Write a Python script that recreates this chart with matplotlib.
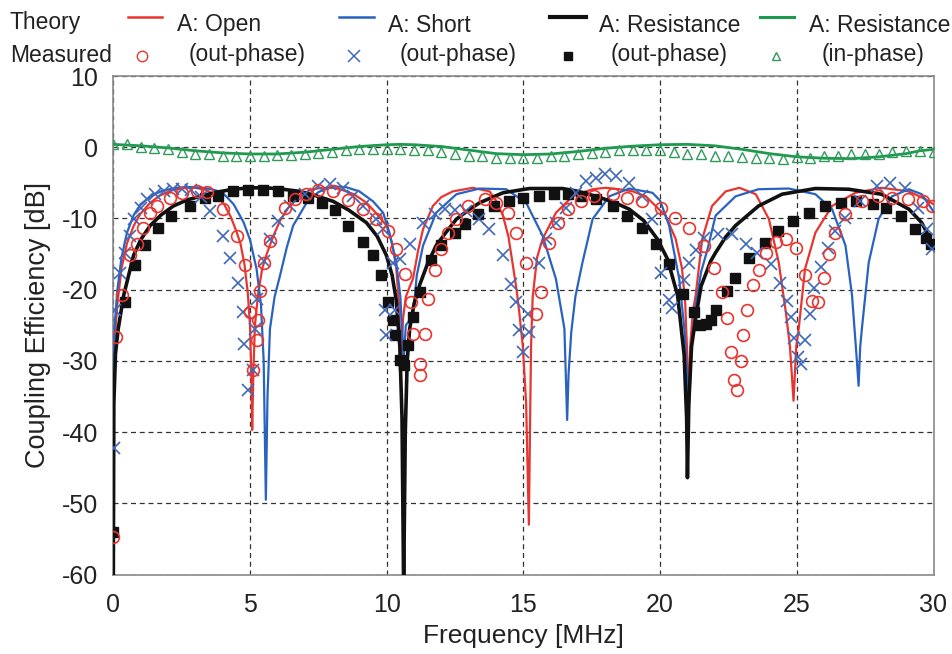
import matplotlib
matplotlib.use("Agg")
import matplotlib.pyplot as plt
from matplotlib.lines import Line2D

plt.rcParams['font.family'] = ['Liberation Sans', 'DejaVu Sans']

# ---------------- data ----------------
# Theory: A: Open (out-phase)
open_th_f = [0.0, 0.05, 0.15, 0.3, 0.5, 0.75, 1.0, 1.35, 1.7, 2.1, 2.6, 3.0, 3.4, 3.75, 4.05, 4.3, 4.5,
             4.65, 4.8, 4.92, 5.0, 5.05, 5.08, 5.12, 5.18, 5.3, 5.45, 5.61, 5.85, 6.1, 6.4, 6.8, 7.2, 7.6,
             8.0, 8.3, 8.8, 9.26, 9.6, 9.99, 10.2, 10.35, 10.45, 10.52, 10.6, 10.7, 10.85, 10.96, 11.15,
             11.33, 11.69, 12.0, 12.42, 13.15, 13.76, 14.0, 14.25, 14.45, 14.6, 14.75, 14.85, 14.98, 15.1,
             15.2, 15.24, 15.28, 15.34, 15.5, 15.7, 16.19, 16.8, 17.53, 18.0, 18.5, 19.0, 19.48, 19.9, 20.2,
             20.57, 20.8, 20.92, 21.0, 21.04, 21.1, 21.2, 21.3, 21.54, 21.9, 22.4, 22.9, 23.5, 23.98, 24.34,
             24.6, 24.75, 24.88, 24.98, 25.07, 25.3, 25.68, 26.29, 27.14, 28.1, 29.1, 29.7, 30.0]
open_th_db = [-35, -27, -22, -17, -13.5, -11, -9.3, -7.8, -6.8, -6.1, -5.7, -5.7, -6.0, -6.8, -8.0, -9.8, -11.8,
              -13.5, -16.5, -20.5, -25, -32, -39.7, -32, -25, -20.5, -17, -15, -12.5, -10.3, -8.5, -6.9, -6.0, -5.7,
              -5.7, -5.9, -6.6, -7.8, -9.2, -11.0, -13.5, -17, -22, -31, -24, -21, -19.5, -18.5, -14.5,
              -11.5, -8.25, -7.0, -6.2, -5.7, -6.2, -7.5, -9.6, -12.5, -16.2, -20, -23.2, -28, -36,
              -53, -40, -28, -21, -15.5, -12.9, -9.2, -6.9, -5.9, -5.7, -5.9, -6.2, -6.9, -8.5, -9.6,
              -12.9, -17, -22, -30, -38.5, -28, -23, -20.8, -12.9, -8.25, -6.2, -5.7, -6.6, -10.1, -16.2,
              -23.2, -28, -35.6, -28, -25.5, -17.1, -12.0, -8.25, -6.4, -5.7, -6.2, -7.3, -8.0]

# Theory: A: Short (out-phase)
short_th_f = [0.0, 0.05, 0.15, 0.3, 0.5, 0.75, 1.0, 1.4, 1.8, 2.3, 2.8, 3.3, 3.7, 4.0, 4.4, 4.76, 5.0, 5.24,
              5.4, 5.5, 5.58, 5.64, 5.73, 5.9, 6.1, 6.35, 6.58, 7.07, 7.5, 8.04, 8.5, 9.0, 9.5, 9.87, 10.1,
              10.35, 10.5, 10.62, 10.7, 10.8, 10.96, 11.1, 11.33, 11.81, 12.55, 13.4, 14.37, 15.1, 15.7, 16.19,
              16.5, 16.6, 16.65, 16.75, 16.9, 17.16, 17.53, 18.14, 18.87, 19.72, 20.0, 20.33, 20.45, 20.7, 20.9,
              21.05, 21.15, 21.3, 21.5, 21.73, 22.03, 22.76, 23.6, 24.7, 25.68, 26.29, 26.78, 27.02, 27.2,
              27.26, 27.32, 27.38, 27.63, 27.99, 28.48, 29.1, 29.57, 29.94, 30.0]
short_th_db = [-35, -25, -20, -15.5, -12, -9.5, -8.0, -6.8, -6.1, -5.7, -5.6, -5.7, -6.0, -6.4, -8.0, -10.5, -13, -17.1,
               -22, -30, -49.5, -35, -25.5, -21, -18, -14, -11, -7.8, -6.3, -5.5, -5.6, -6.2, -7.6, -9.2, -12,
               -16.2, -21, -30, -25, -24.5, -23.6, -18, -13.8, -9.2, -6.6, -5.8, -5.9, -7.8, -12.4, -18.5,
               -25.5, -38.3, -32, -26, -21, -16.2, -10.1, -6.9, -5.8, -6.4, -7.5, -11, -13.5, -18.5, -26,
               -37, -28, -22.2, -17.5, -14.4, -9.6, -6.9, -5.9, -5.8, -6.6, -8.7, -13.8, -20.8, -30.1,
               -33.5, -28, -25.5, -16.2, -10.1, -6.9, -5.9, -6.6, -8.7, -9.0]

# Theory: A: Resistance (out-phase)
res_th_f = [0.0, 0.02, 0.08, 0.18, 0.38, 0.74, 1.0, 1.35, 1.75, 2.2, 2.7, 3.18, 3.8, 4.39, 5.0, 5.61, 6.2,
            6.82, 7.4, 8.04, 8.6, 9.26, 9.65, 9.99, 10.2, 10.35, 10.48, 10.56, 10.62, 10.68, 10.75, 10.84,
            11.0, 11.2, 11.5, 11.81, 12.2, 12.55, 13.0, 13.4, 14.25, 15.22, 16.43, 17.0, 17.65, 18.3, 18.87,
            19.4, 19.9, 20.27, 20.64, 20.88, 20.97, 21.0, 21.05, 21.15, 21.3, 21.5, 21.85, 22.03, 22.4,
            22.76, 23.6, 24.46, 25.68, 26.9, 28.1, 29.1, 29.57, 29.94, 30.0]
res_th_db = [-62, -36, -29, -25.5, -20.8, -15.2, -13, -11.0, -9.5, -8.25, -7.4, -6.9, -6.3, -5.9, -5.7, -5.7, -5.9,
             -6.2, -6.8, -7.6, -8.8, -10.6, -12.5, -15.2, -18, -21.5, -28, -38, -62, -40, -30, -25.5,
             -22, -19.4, -16.3, -13.8, -11.8, -10.1, -8.8, -7.8, -6.4, -5.8, -5.8, -6.2, -6.9, -7.7, -8.7,
             -10.3, -12.9, -15.7, -20.8, -29.2, -38, -46.4, -36, -28, -24, -19.5, -16, -14.8, -12.6,
             -11.0, -8.25, -6.6, -5.8, -5.9, -6.6, -8.7, -10.6, -13.4, -13.8]

# Theory: A: Resistance (in-phase)
inph_th_f = [0, 1, 2, 3, 4, 5, 6, 7, 8, 9, 10, 10.5, 11, 12, 13, 14, 15, 16, 17, 18, 19, 20, 21,
             22, 23, 24, 25, 26, 27, 28, 29, 29.5, 30]
inph_th_db = [0.4, 0.2, -0.1, -0.5, -0.8, -0.95, -0.95, -0.7, -0.3, 0.1, 0.35, 0.4, 0.35, 0.1, -0.4, -0.9,
              -1.05, -0.95, -0.6, -0.15, 0.15, 0.35, 0.4, 0.2, -0.3, -0.9, -1.35, -1.55, -1.6, -1.35, -0.9,
              -0.5, -0.3]

# Measured: A: Open (out-phase)
open_ms_f = [0.0, 0.1, 0.32, 0.6, 0.86, 1.1, 1.35, 1.6, 2.08, 2.5, 3.05, 3.44, 4.03, 4.51, 4.82, 5.0, 5.12,
             5.24, 5.3, 5.36, 5.52, 5.73, 6.28, 6.64, 7.05, 7.49, 8.04, 8.59, 9.14, 9.62, 10.05, 10.35, 10.66,
             10.9, 10.96, 11.2, 11.22, 11.39, 11.5, 11.75, 12.0, 12.24, 12.55, 12.97, 13.58, 14.0, 14.43,
             14.73, 15.1, 15.46, 15.65, 15.95, 16.25, 16.62, 17.1, 17.6, 18.26, 18.8, 19.35, 20.02, 20.55,
             21.04, 21.6, 21.98, 22.25, 22.45, 22.59, 22.71, 22.8, 22.96, 23.02, 23.18, 23.39, 23.6, 23.87,
             24.24, 24.6, 24.97, 25.3, 25.55, 25.77, 25.99, 26.19, 26.41, 26.78, 27.38, 27.97, 28.5, 29.06,
             29.6, 29.94]
open_ms_db = [-54.8, -26.6, -20.7, -15.1, -13.6, -11.3, -9.2, -8.2, -7.1, -6.4, -6.1, -6.3, -8.7, -12.5, -16.6,
              -23.1, -31.3, -27.1, -24.2, -20.2, -16.2, -13.2, -8.6, -7.3, -6.5, -6.0, -6.2, -7.4, -8.7, -10.1,
              -11.7, -14.3, -17.8, -21.7, -26.2, -30.4, -32.0, -26.2, -21.3, -17.3, -14.3, -12.0, -10.1, -8.25,
              -7.3, -7.8, -9.2, -12.0, -16.2, -23.4, -20.3, -13.4, -10.6, -8.7, -7.6, -6.9, -6.6, -7.1, -7.6,
              -8.5, -9.9, -11.4, -13.9, -16.9, -20.3, -24.0, -28.8, -32.7, -34.1, -30.0, -26.4, -22.8, -19.4,
              -17.2, -14.9, -13.3, -12.9, -14.2, -17.9, -21.6, -21.7, -18.3, -15.0, -12.0, -9.4, -7.55, -6.9,
              -7.1, -7.3, -7.55, -8.2]

# Measured: A: Short (out-phase)
short_ms_f = [0.03, 0.07, 0.26, 0.44, 0.6, 0.74, 1.0, 1.23, 1.53, 1.85, 2.2, 2.5, 2.85, 3.2, 3.54, 4.03, 4.27,
              4.57, 4.76, 4.78, 4.94, 5.1, 5.18, 5.24, 5.5, 5.73, 6.03, 6.46, 7.0, 7.49, 7.92, 8.4, 8.77, 9.14,
              9.62, 9.87, 9.93, 9.99, 10.23, 10.29, 10.47, 10.84, 11.33, 11.75, 12.12, 12.5, 12.9, 13.39, 13.76,
              14.25, 14.55, 14.73, 14.85, 15.0, 15.16, 15.22, 15.58, 15.83, 16.19, 16.56, 16.92, 17.29, 17.65,
              18.0, 18.38, 18.87, 19.35, 19.72, 20.03, 20.33, 20.45, 20.88, 21.06, 21.3, 21.6, 22.1, 22.64,
              23.13, 23.55, 24.06, 24.37, 24.64, 24.79, 24.89, 25.06, 25.16, 25.3, 25.5, 25.64, 25.89, 26.13,
              26.41, 26.78, 27.3, 27.93, 28.42, 28.97, 29.45, 29.76, 29.94]
short_ms_db = [-42.2, -22.9, -17.6, -14.8, -12.5, -10.1, -8.5, -7.3, -6.6, -6.2, -5.9, -5.8, -6.0, -7.0, -8.95, -12.4,
               -15.5, -19.0, -23.1, -27.6, -34.1, -31.3, -25.5, -21.3, -16.0, -12.9, -10.3, -8.25, -6.6, -5.5, -5.2,
               -5.7, -6.9, -8.25, -10.1, -11.5, -22.9, -26.4, -16.2, -22.9, -15.7, -13.6, -10.6, -9.4, -8.7, -8.8,
               -9.0, -10.1, -11.5, -15.2, -19.2, -21.7, -25.7, -28.7, -23.4, -25.9, -16.2, -12.9, -10.6, -8.5,
               -6.4, -4.8, -4.3, -3.8, -4.1, -5.0, -6.9, -10.1, -17.7, -21.5, -22.6, -18.6, -16.3, -14.4, -12.7,
               -12.2, -12.2, -13.6, -14.8, -16.4, -19.0, -21.6, -23.8, -26.8, -29.4, -30.4, -27.1, -23.4, -19.8,
               -16.8, -14.2, -11.7, -9.9, -7.5, -5.5, -5.0, -5.7, -8.5, -11.5, -14.3]

# Measured: A: Resistance (out-phase)
res_ms_f = [0.0, 0.44, 0.8, 1.17, 1.65, 2.1, 2.79, 3.36, 3.84, 4.39, 4.94, 5.49, 6.03, 6.58, 7.13, 7.62, 8.1,
            8.59, 9.14, 9.5, 9.8, 10.05, 10.23, 10.29, 10.47, 10.62, 10.78, 10.96, 11.2, 11.63, 12.0, 12.48,
            12.85, 13.33, 13.94, 14.49, 15.0, 15.56, 16.13, 16.62, 17.1, 17.65, 18.26, 18.8, 19.35, 19.85,
            20.33, 20.85, 21.25, 21.45, 21.68, 21.85, 22.05, 22.45, 22.75, 23.25, 23.82, 24.32, 24.85, 25.44,
            26.02, 26.63, 27.16, 27.8, 28.26, 28.82, 29.33, 29.72, 29.92]
res_ms_db = [-54.0, -21.7, -16.5, -13.7, -11.4, -9.7, -8.2, -7.2, -6.8, -6.2, -6.0, -6.0, -6.2, -6.8, -7.2, -7.9,
             -8.8, -11.0, -13.3, -15.2, -18.0, -21.7, -24.3, -26.4, -29.9, -30.6, -27.8, -23.8, -20.3, -15.9,
             -13.8, -12.0, -10.8, -9.4, -8.25, -7.6, -7.1, -6.8, -6.6, -6.6, -6.8, -7.3, -8.3, -9.6, -11.4,
             -13.6, -16.4, -20.6, -23.2, -24.9, -24.8, -24.3, -22.9, -20.2, -18.3, -15.5, -13.4, -11.7, -10.3,
             -9.2, -8.25, -7.8, -7.55, -8.0, -8.6, -9.7, -11.5, -12.7, -13.6]

# Measured: A: Resistance (in-phase), every 0.5 MHz
inph_ms_f = [i * 0.5 for i in range(61)]
inph_ms_db = [0.4, 0.4, 0.0, -0.1, -0.3, -0.7, -0.9, -1.0, -1.2, -1.2, -1.3, -1.2, -1.1, -1.1, -0.9, -0.8,
              -0.7, -0.4, -0.3, -0.2, -0.2,
              -0.2, -0.4, -0.4, -0.7, -0.9, -1.2, -1.3, -1.5, -1.5, -1.5, -1.5, -1.3, -1.2, -1.0, -0.8,
              -0.7, -0.4, -0.4, -0.4, -0.4, -0.7,
              -0.9, -1.0, -1.3, -1.3, -1.4, -1.5, -1.5, -1.6, -1.4, -1.5, -1.2, -1.2, -1.0, -0.9, -0.9,
              -0.7, -0.6, -0.6, -0.7]

x_ticks = [0, 5, 10, 15, 20, 25, 30]
y_ticks = [10, 0, -10, -20, -30, -40, -50, -60]

# ---------------- colours ----------------
RED = '#e8352f'
BLUE = '#2a62c0'
BLUE_M = '#4068b8'
GREEN = '#1d9a4e'
GREEN_M = '#2f9a5a'
BLACK = '#111111'
TXT = '#222222'

fig = plt.figure(figsize=(9.53, 6.54), dpi=100)
ax = fig.add_axes([113.3 / 953, 1 - 574.5 / 654, (933.5 - 113.3) / 953, (574.5 - 76) / 654])

ax.plot(inph_th_f, inph_th_db, color=GREEN, lw=2.0, zorder=3)
ax.plot(open_th_f, open_th_db, color=RED, lw=1.6, zorder=3)
ax.plot(short_th_f, short_th_db, color=BLUE, lw=1.6, zorder=3)
ax.plot(res_th_f, res_th_db, color=BLACK, lw=2.6, zorder=3)

ax.plot(inph_ms_f, inph_ms_db, ls='none', marker='^', ms=7, mfc='none', mec=GREEN_M, mew=1.0, zorder=4)
ax.plot(res_ms_f, res_ms_db, ls='none', marker='s', ms=6.5, mfc=BLACK, mec=BLACK, zorder=5)
ax.plot(short_ms_f, short_ms_db, ls='none', marker='x', ms=8.5, mec=BLUE_M, mew=1.2, zorder=5)
ax.plot(open_ms_f, open_ms_db, ls='none', marker='o', ms=8.5, mfc='none', mec=RED, mew=1.2, zorder=6)

ax.set_xlim(0, 30)
ax.set_ylim(-60, 10)
ax.set_xticks(x_ticks)
ax.set_yticks(y_ticks)
ax.set_xticklabels([str(v) for v in x_ticks])
ax.set_yticklabels([str(v) for v in y_ticks])
ax.tick_params(length=0, labelsize=18, colors=TXT)
ax.tick_params(axis='x', pad=13)
ax.tick_params(axis='y', pad=11)
ax.grid(True, color='#333333', lw=0.9, ls=(0, (4, 3)), zorder=1)
ax.set_axisbelow(True)
for s in ax.spines.values():
    s.set_color('#8a8a8a')
    s.set_linewidth(1.2)

ax.set_xlabel('Frequency [MHz]', fontsize=19, color=TXT, labelpad=5)
ax.set_ylabel('Coupling Efficiency [dB]', fontsize=19.5, color=TXT, labelpad=8)

# ---------------- legend (figure text) ----------------
def fx(px):
    return px / 953

def fy(py):
    return 1 - py / 654

fs = 16.5
fig.text(fx(10), fy(23), 'Theory', fontsize=fs, color=TXT, va='center', ha='left')
fig.text(fx(10), fy(56), 'Measured', fontsize=fs, color=TXT, va='center', ha='left')

legend_items = [
    (128, 162, 177, 'A: Open', 142, 189, '(out-phase)', RED, 1.8, 'o', RED, 'none'),
    (339, 374, 388, 'A: Short', 354, 400, '(out-phase)', BLUE, 1.8, 'x', BLUE_M, BLUE_M),
    (550, 586, 599, 'A: Resistance', 568, 611, '(out-phase)', BLACK, 3.0, 's', BLACK, BLACK),
    (760, 794, 809, 'A: Resistance', 776, 822, '(in-phase)', GREEN, 2.2, '^', GREEN_M, 'none'),
]
for x0, x1, tx, t1, mx, tx2, t2, col, lw, mk, mcol, mfc in legend_items:
    fig.add_artist(Line2D([fx(x0), fx(x1)], [fy(17), fy(17)], color=col, lw=lw, transform=fig.transFigure))
    fig.text(fx(tx), fy(25), t1, fontsize=fs, color=TXT, va='center', ha='left')
    if mk == 'x':
        fig.add_artist(Line2D([fx(mx)], [fy(56)], ls='none', marker=mk, ms=8, mec=mcol, mew=1.1,
                              transform=fig.transFigure))
    else:
        fig.add_artist(Line2D([fx(mx)], [fy(56)], ls='none', marker=mk, ms=7.5 if mk == 'o' else 6,
                              mec=mcol, mfc=mfc, mew=1.0, transform=fig.transFigure))
    fig.text(fx(tx2), fy(54), t2, fontsize=fs, color=TXT, va='center', ha='left')

fig.savefig('out.png', dpi=100)
